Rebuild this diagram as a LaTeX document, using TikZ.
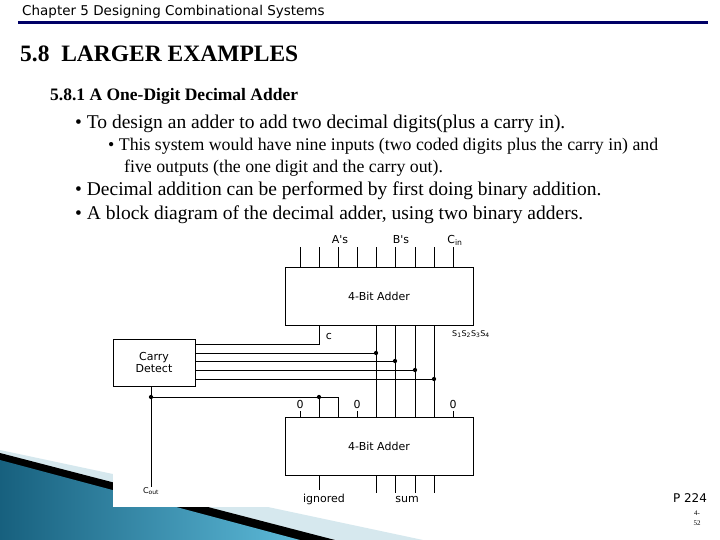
\documentclass[tikz,border=0pt]{standalone}
\usepackage{fontspec}
\setmainfont{Liberation Serif}
\newfontfamily\hdr{DejaVu Sans}
\newfontfamily\dg{DejaVu Sans}
\definecolor{teald}{HTML}{17607E}
\definecolor{teall}{HTML}{5DBAD9}
\definecolor{palebl}{HTML}{D6E8EE}
\begin{document}
\begin{tikzpicture}[x=1pt,y=-1pt,
  wire/.style={line width=0.8pt},
  blk/.style={draw,line width=0.9pt,fill=white},
  dot/.style={circle,fill,inner sep=1.5pt},
  lbl/.style={font=\dg\fontsize{11}{12}\selectfont,inner sep=0pt},
  txt/.style={anchor=west,inner sep=0pt,align=left}]
\useasboundingbox (0,0) rectangle (720,540);
\fill[white] (0,0) rectangle (720,540);
% swoosh
\fill[palebl] (0,450) -- (423,540) -- (0,540) -- cycle;
\fill[black] (0,453) -- (335,540) -- (0,540) -- cycle;
\shade[left color=teald, right color=teall] (0,460) -- (300,540) -- (0,540) -- cycle;
\fill[white] (113,230) rectangle (500,507);
% header
\node[txt,font=\hdr\fontsize{13.5}{14}\selectfont] (hd) at (22,12) {Chapter 5 Designing Combinational Systems};
\draw[line width=3pt,color=blue!40!black] (18,23) -- (708,23);
\node[txt,font=\fontsize{23.5}{25}\selectfont\bfseries] (t1) at (20,54) {5.8\ \ LARGER EXAMPLES};
\node[txt,font=\fontsize{17.5}{19}\selectfont\bfseries] (t2) at (50,96) {5.8.1 A One-Digit Decimal Adder};
\node[txt,font=\fontsize{19.5}{21}\selectfont] (b1) at (75,124) {\textbullet\ To design an adder to add two decimal digits(plus a carry in).};
\node[txt,font=\fontsize{17.8}{19}\selectfont] (b2) at (108,146) {\textbullet\ This system would have nine inputs (two coded digits plus the carry in) and};
\node[txt,font=\fontsize{17.8}{19}\selectfont] (b3) at (124,168) {five outputs (the one digit and the carry out).};
\node[txt,font=\fontsize{19.5}{21}\selectfont] (b4) at (75,191) {\textbullet\ Decimal addition can be performed by first doing binary addition.};
\node[txt,font=\fontsize{19.5}{21}\selectfont] (b5) at (75,215) {\textbullet\ A block diagram of the decimal adder, using two binary adders.};
% blocks
\node[blk,minimum width=188pt,minimum height=58pt,lbl] (ad1) at (379,296) {4-Bit Adder};
\node[blk,minimum width=188pt,minimum height=58pt,lbl] (ad2) at (379,446) {4-Bit Adder};
\node[blk,minimum width=82pt,minimum height=47pt,lbl,align=center] (cd) at (154,362.5) {Carry\\Detect};
% top inputs
\foreach \x in {300,319,338,357,376,395,415,434,453}
  \draw[wire] (\x,247) -- (\x,267);
\node[lbl] (la) at (340,240) {A's};
\node[lbl] (lb) at (401,240) {B's};
\node[lbl] (lc) at (455,240) {C\textsubscript{in}};
% carry c
\coordinate (c1) at (319,325);
\coordinate (c2) at (319,344);
\draw[wire] (c1) -- (c2) -- (cd.east |- c2);
\node[lbl] (lcc) at (329,336) {c};
\node[lbl] (ls) at (471,334) {\fontsize{8}{9}\selectfont S\textsubscript{1}S\textsubscript{2}S\textsubscript{3}S\textsubscript{4}};
% sum lines with dots
\foreach \x/\y/\n in {376/353/a,395/361/b,415/370/c,434/379/d}{
  \draw[wire] (\x,325) -- (\x,417);
  \node[dot] (d\n) at (\x,\y) {};
  \draw[wire] (cd.east |- d\n) -- (d\n);
}
% carry out
\coordinate (co1) at (151,386);
\coordinate (co2) at (151,487);
\draw[wire] (co1) -- (co2);
\node[dot] (dc) at (151,397) {};
\node[dot] (dc2) at (319,397) {};
\coordinate (cc3) at (338,397);
\draw[wire] (dc) -- (dc2) -- (cc3) -- (338,417);
\draw[wire] (dc2) -- (319,417);
\foreach \x in {300,357,453}{
  \draw[wire] (\x,411) -- (\x,417);
  \node[lbl] at (\x,404) {0};
}
\node[lbl] (lco) at (151,491) {\fontsize{8}{9}\selectfont C\textsubscript{out}};
% bottom outputs
\draw[wire] (319,475) -- (319,490);
\foreach \x in {376,395,415,434} \draw[wire] (\x,475) -- (\x,493);
\node[lbl] (lig) at (324,499) {ignored};
\node[lbl] (lsum) at (407,499) {sum};
% footer
\node[font=\hdr\fontsize{12}{13}\selectfont,inner sep=0pt] (p) at (690,498) {P 224};
\node[font=\fontsize{7}{8}\selectfont,inner sep=0pt,align=center] (pg) at (697,518) {4-\\[2pt]52};
\end{tikzpicture}
\end{document}
